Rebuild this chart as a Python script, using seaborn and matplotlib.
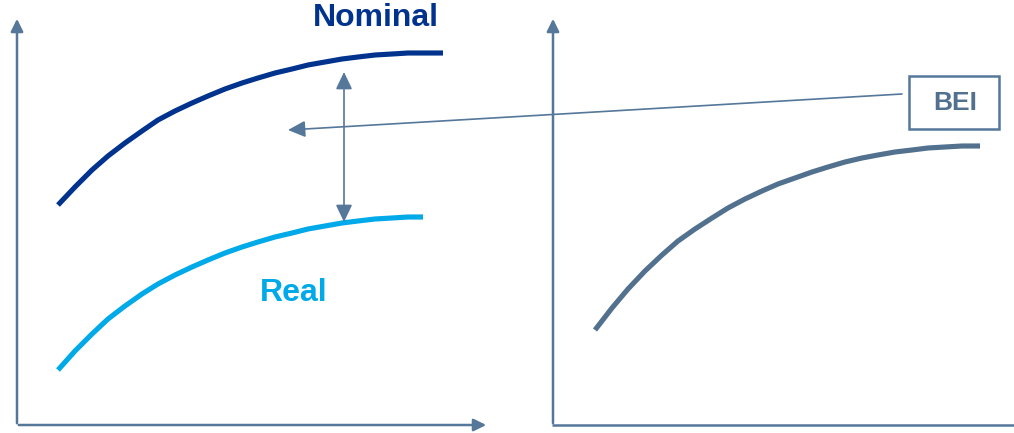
import numpy as np
import pandas as pd
import matplotlib.pyplot as plt
import seaborn as sns

# curve points (pixel space, y grows downward)
nominal_x = [58, 75, 92, 108, 125, 142, 158, 175, 192, 208, 225, 242, 258, 275, 292, 308, 325, 342, 358, 375, 392, 408, 425, 443]
nominal_y = [205, 187, 170, 156, 143, 131, 120, 111, 103, 96, 89, 83, 78, 73, 69, 65, 62, 59, 57, 55, 54, 53, 53, 53]

real_x = [58, 75, 92, 108, 125, 142, 158, 175, 192, 208, 225, 242, 258, 275, 292, 308, 325, 342, 358, 375, 392, 408, 423]
real_y = [370, 351, 334, 319, 306, 294, 284, 275, 267, 260, 253, 247, 242, 237, 233, 229, 226, 223, 221, 219, 218, 217, 217]

bei_x = [595, 612, 628, 645, 662, 678, 695, 712, 728, 745, 762, 778, 795, 812, 828, 845, 862, 878, 895, 912, 928, 945, 962, 980]
bei_y = [330, 308, 289, 271, 255, 241, 229, 218, 208, 199, 191, 184, 178, 172, 167, 162, 158, 155, 152, 150, 148, 147, 146, 146]

NAVY = "#00338d"
LIGHT = "#00a9e8"
GREY = "#51718f"
AXIS = "#55779a"

sns.set_style("white")
plt.rcParams['font.family'] = ['Liberation Sans', 'DejaVu Sans']

fig = plt.figure(figsize=(10.14, 4.33), dpi=100)
ax = fig.add_axes([0, 0, 1, 1])
ax.set_xlim(0, 1014)
ax.set_ylim(433, 0)
ax.axis('off')

df = pd.concat([
    pd.DataFrame({'x': nominal_x, 'y': nominal_y, 'curve': 'Nominal'}),
    pd.DataFrame({'x': real_x, 'y': real_y, 'curve': 'Real'}),
    pd.DataFrame({'x': bei_x, 'y': bei_y, 'curve': 'BEI'}),
])
sns.lineplot(data=df, x='x', y='y', hue='curve', sort=False, ax=ax,
             palette={'Nominal': NAVY, 'Real': LIGHT, 'BEI': GREY},
             linewidth=3.7, legend=False)
for ln in ax.get_lines():
    ln.set_solid_capstyle('butt')
    ln.set_solid_joinstyle('round')

# axes drawn as arrows
axis_arrow = dict(arrowstyle='-|>,head_length=0.75,head_width=0.37', color=AXIS, lw=1.8)
ax.annotate('', xy=(17, 16), xytext=(17, 426), arrowprops=axis_arrow)
ax.annotate('', xy=(489, 425), xytext=(16, 425), arrowprops=axis_arrow)
ax.annotate('', xy=(553, 16), xytext=(553, 426), arrowprops=axis_arrow)
ax.plot([552, 1014], [425, 425], color=AXIS, lw=1.8, solid_capstyle='butt')

# spread arrow between nominal and real
thin_arrow = dict(arrowstyle='<|-|>,head_length=1.05,head_width=0.5', color=AXIS, lw=1.2,
                  shrinkA=0, shrinkB=0)
ax.annotate('', xy=(344, 72), xytext=(344, 222), arrowprops=thin_arrow)
ax.annotate('', xy=(288, 130), xytext=(902, 94),
            arrowprops=dict(arrowstyle='-|>,head_length=1.05,head_width=0.5',
                            color=AXIS, lw=1.2, shrinkA=0, shrinkB=0))

# BEI box
ax.add_patch(plt.Rectangle((909, 76), 90, 53, fill=False, edgecolor=AXIS, lw=1.8))
ax.text(955, 103, 'BEI', ha='center', va='center', fontsize=19,
        fontweight='bold', color=GREY)

ax.text(376, 18, 'Nominal', ha='center', va='center', fontsize=23,
        fontweight='bold', color=NAVY)
ax.text(294, 293, 'Real', ha='center', va='center', fontsize=23,
        fontweight='bold', color=LIGHT)

fig.savefig('out.png', dpi=100)
